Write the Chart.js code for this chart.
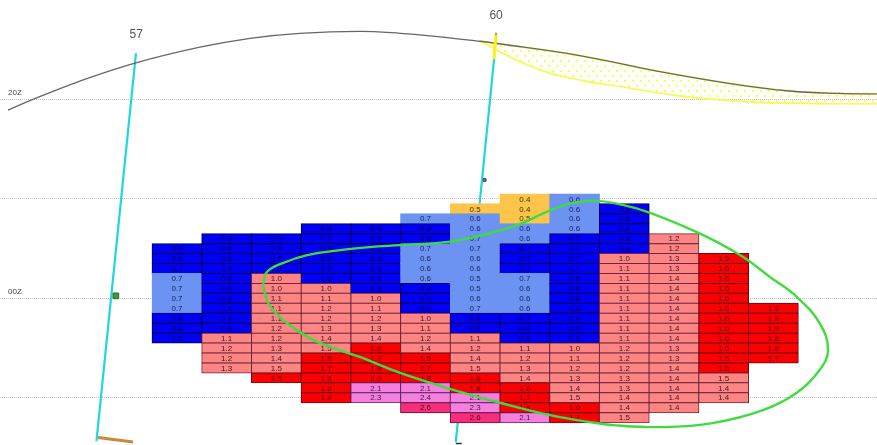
<!DOCTYPE html>
<html>
<head>
<meta charset="utf-8">
<script src="https://cdn.jsdelivr.net/npm/chart.js@4"></script>
<style>
html,body{margin:0;padding:0;background:#fff;overflow:hidden}
canvas{display:block;filter:blur(0.45px)}
</style>
</head>
<body>
<canvas id="c" width="877" height="445"></canvas>
<script>
// Columns of the grid: first row index, cell values, and colour class of each cell
const columnStarts = [5,4,4,3,3,2,1,0,0,1,4,6,11];
const col0  = [0.8,0.8,0.7,0.7,0.7,0.7,0.7,0.8,0.8,1.0];
const col1  = [0.8,0.8,0.8,0.8,0.8,0.9,0.9,0.9,0.9,0.9,1.1,1.2,1.2,1.3];
const col2  = [0.9,0.9,0.9,0.9,1.0,1.0,1.1,1.1,1.1,1.2,1.2,1.3,1.4,1.5,1.5];
const col3  = [0.9,0.9,0.9,0.9,1.0,1.0,1.0,1.1,1.2,1.2,1.3,1.4,1.5,1.6,1.7,1.8,1.8,1.9];
const col4  = [0.9,0.9,0.9,0.9,0.9,0.9,0.9,1.0,1.1,1.2,1.3,1.4,1.6,1.7,1.8,2.0,2.1,2.3];
const col5  = [0.7,0.8,0.8,0.7,0.6,0.6,0.6,0.8,0.9,0.9,1.0,1.1,1.2,1.4,1.5,1.7,1.8,2.1,2.4,2.6];
const col6  = [0.5,0.6,0.6,0.7,0.7,0.6,0.6,0.5,0.5,0.6,0.7,0.8,0.8,1.1,1.2,1.4,1.5,1.6,1.8,2.1,2.3,2.6];
const col7  = [0.4,0.4,0.5,0.6,0.6,0.7,0.7,0.7,0.7,0.6,0.6,0.6,0.7,0.8,0.9,1.1,1.2,1.3,1.4,1.6,1.7,1.8,2.1];
const col8  = [0.6,0.6,0.6,0.6,0.7,0.7,0.7,0.7,0.8,0.8,0.8,0.8,0.9,0.9,0.9,1.0,1.1,1.2,1.3,1.4,1.5,1.6,1.7];
const col9  = [0.8,0.8,0.8,0.9,0.9,1.0,1.1,1.1,1.1,1.1,1.1,1.1,1.1,1.1,1.2,1.2,1.2,1.3,1.3,1.4,1.4,1.5];
const col10 = [1.2,1.2,1.3,1.3,1.4,1.4,1.4,1.4,1.4,1.4,1.4,1.3,1.3,1.4,1.4,1.4,1.4,1.4];
const col11 = [1.5,1.6,1.6,1.6,1.6,1.6,1.6,1.6,1.6,1.5,1.5,1.5,1.5,1.4,1.4];
const col12 = [1.9,1.9,1.9,1.8,1.8,1.7];
const columnValues = [col0,col1,col2,col3,col4,col5,col6,col7,col8,col9,col10,col11,col12];
// B blue, L light blue, O orange, S salmon, R red, P pink, D deep pink
const columnClasses = [
  'BBBLLLLBBB','BBBBBBBBBBSSSS','BBBBSSSSSSSSSSR','BBBBBBSSSSSSSRRRRR','BBBBBBBSSSSSRRRRPP',
  'LBBLLLLBBBSSSSRRRPPD','OLLLLLLLLLLBBSSSSRRPPD','OOOLLBBBLLLLBBBSSSSRRRP','LLLLBBBBBBBBBBBSSSSSSRR',
  'BBBBBSSSSSSSSSSSSSSSSS','SSSSSSSSSSSSSSSSSS','RRRRRRRRRRRRSSS','RRRRRR'
];
const classFill = {B:'#0000f2',L:'#6d93f2',O:'#fdc54a',S:'#ff8484',R:'#fb0000',P:'#f57fdc',D:'#f72e7c'};
const classEdge = {B:'#000050',L:'#6d93f2',O:'#fdc54a',S:'#6a2838',R:'#6a0818',P:'#60286a',D:'#700c38'};
const classText = {B:'#00004a',L:'#142660',O:'#40320c',S:'#40181c',R:'#58000c',P:'#40184c',D:'#540028'};

// Axes: x in column units, y in hours after 00Z of the previous day
const xMin = -3.561, xMax = 14.085, yMin = 18.0, yMax = 26.95;
const yTickValues = [20,22,24,26];
const yTickLabels = ['20Z','','00Z',''];
const rowStartHour = 22, rowStep = 0.2;

// Grey profile curve
const curveX = [-3.40,-2.90,-1.95,-0.845,0.46,1.47,2.47,3.68,4.49,5.29,6.10,6.40,8.05,9.66,11.13,12.33,13.34,14.08];
const curveY = [20.215,20.0,19.63,19.27,18.95,18.77,18.67,18.63,18.67,18.74,18.83,18.87,19.11,19.43,19.68,19.83,19.88,19.89];
// Lower edge of the yellow hatched region
const shadeX = [6.10,6.44,6.84,7.44,8.11,8.97,9.98,10.66,11.99,14.08];
const shadeY = [18.83,19.01,19.21,19.45,19.61,19.75,19.91,19.99,20.07,20.09];
// Green closed contour
const ringX = [1.73,1.81,2.13,2.62,3.28,3.88,4.49,5.49,6.10,6.84,7.51,7.97,8.45,8.97,9.52,10.46,11.33,11.93,12.47,12.93,13.10,12.93,12.47,11.79,10.78,9.78,8.77,8.31,7.51,6.50,5.49,4.49,3.68,2.88,2.47,2.07,1.83,1.73];
const ringY = [23.73,23.47,23.29,23.13,23.03,22.97,22.93,22.86,22.74,22.53,22.23,22.08,22.04,22.12,22.28,22.67,23.13,23.57,23.97,24.50,25.04,25.44,25.90,26.25,26.51,26.59,26.55,26.49,26.35,26.10,25.82,25.50,25.18,24.90,24.68,24.38,24.09,23.73];
// Station tracks
const track57X = [-0.825,-1.62], track57Y = [19.07,26.87];
const track60X = [6.38,5.61],    track60Y = [19.19,26.89];
const yellowX  = [6.42,6.38],    yellowY  = [18.68,19.19];
const tipX     = [6.42,6.42],    tipY     = [18.66,18.71];
const orangeX  = [-1.59,-0.885], orangeY  = [26.80,26.89];
const footX    = [5.61,5.73],    footY    = [26.92,26.92];
const markerX  = [-1.23,6.19],   markerY  = [23.95,21.62];
const stationLabels = ['57','60'];
const stationX = [-0.82,6.42], stationY = [18.69,18.31];

const zip = (xs,ys) => xs.map((x,i) => ({x, y:ys[i]}));

const cells = [];
columnValues.forEach((vals,c) => vals.forEach((v,i) => {
  const h = rowStartHour + (columnStarts[c]+i)*rowStep;
  cells.push({x:c, y:[h-rowStep/2,h+rowStep/2], value:v, cls:columnClasses[c][i]});
}));

function dotPattern(){
  const p = document.createElement('canvas'); p.width = 8; p.height = 10;
  const g = p.getContext('2d');
  g.fillStyle = '#fbfb50';
  g.fillRect(0,0,2,2); g.fillRect(4,5,2,2);
  return g.createPattern(p,'repeat');
}

const line = (label,xs,ys,color,width,order,extra) => Object.assign({
  type:'line', label, data:zip(xs,ys), borderColor:color, borderWidth:width,
  pointRadius:0, tension:0, fill:false, order
}, extra||{});

const cellLabels = {
  id:'cellLabels',
  afterDatasetDraw(chart,args){
    if (args.index !== 0) return;
    const {ctx, scales:{x,y}} = chart;
    ctx.save();
    ctx.font = '8px "Liberation Sans"';
    ctx.textAlign = 'center'; ctx.textBaseline = 'middle';
    cells.forEach(c => {
      ctx.fillStyle = classText[c.cls];
      ctx.fillText(c.value.toFixed(1), x.getPixelForValue(c.x), y.getPixelForValue((c.y[0]+c.y[1])/2)+0.5);
    });
    ctx.restore();
  }
};
const stationText = {
  id:'stationText',
  afterDraw(chart){
    const {ctx, scales:{x,y}} = chart;
    ctx.save();
    ctx.font = '12px "Liberation Sans"'; ctx.fillStyle = '#555';
    ctx.textAlign = 'center'; ctx.textBaseline = 'middle';
    stationLabels.forEach((t,i) => ctx.fillText(t, x.getPixelForValue(stationX[i]), y.getPixelForValue(stationY[i])));
    ctx.restore();
  }
};

new Chart(document.getElementById('c'), {
  type:'bar',
  data:{ datasets:[
    { type:'bar', label:'cells', data:cells, order:5,
      barPercentage:1, categoryPercentage:1, grouped:false, inflateAmount:0.5,
      borderSkipped:false, borderWidth:1,
      backgroundColor:ctx => classFill[ctx.raw.cls],
      borderColor:ctx => classEdge[ctx.raw.cls] },
    line('shadeTop',curveX.slice(10),curveY.slice(10),'rgba(250,250,60,0.8)',2,7,{tension:0.4,fill:{target:'+1'},backgroundColor:dotPattern()}),
    line('shadeBottom',shadeX,shadeY,'#f8f850',1.7,7,{tension:0.4}),
    line('curve',curveX,curveY,'#666',1.3,4,{tension:0.4}),
    line('track57',track57X,track57Y,'#22d6dc',2.2,6),
    line('track60',track60X,track60Y,'#22d6dc',2.2,6),
    line('yellow60',yellowX,yellowY,'#f8f020',3,3),
    line('tip60',tipX,tipY,'#c89060',2,2),
    line('orange',orangeX,orangeY,'#c8893c',3,3),
    line('foot',footX,footY,'#333',1.5,3),
    line('contour',ringX,ringY,'#3fdc3f',2.4,1,{tension:0.4}),
    { type:'line', label:'markers', data:zip(markerX,markerY), showLine:false, order:2,
      pointStyle:'rect', pointRadius:[4,2], backgroundColor:['#3c9c3c','#5a8a6a'], borderColor:['#2a6a2a','#446'], borderWidth:1 }
  ]},
  plugins:[cellLabels,stationText],
  options:{
    responsive:false, animation:false, events:[],
    layout:{padding:0,autoPadding:false},
    plugins:{legend:{display:false},tooltip:{enabled:false},title:{display:false}},
    scales:{
      x:{type:'linear',min:xMin,max:xMax,display:false,offset:false,grid:{display:false}},
      y:{type:'linear',min:yMin,max:yMax,reverse:true,position:'left',
        border:{display:false,dash:[1,1]},
        grid:{color:'#c4c4c4',drawTicks:false,lineWidth:1},
        afterBuildTicks:s => { s.ticks = yTickValues.map(v => ({value:v})); },
        afterFit:s => { s.width = 0; s.paddingTop = 0; s.paddingBottom = 0; s.paddingLeft = 0; s.paddingRight = 0; },
        ticks:{autoSkip:false,mirror:true,padding:8,labelOffset:-7,color:'#444',
          font:{family:'"Liberation Sans"',size:8},
          callback:v => yTickLabels[yTickValues.indexOf(v)] }
      }
    }
  }
});
</script>
</body>
</html>
